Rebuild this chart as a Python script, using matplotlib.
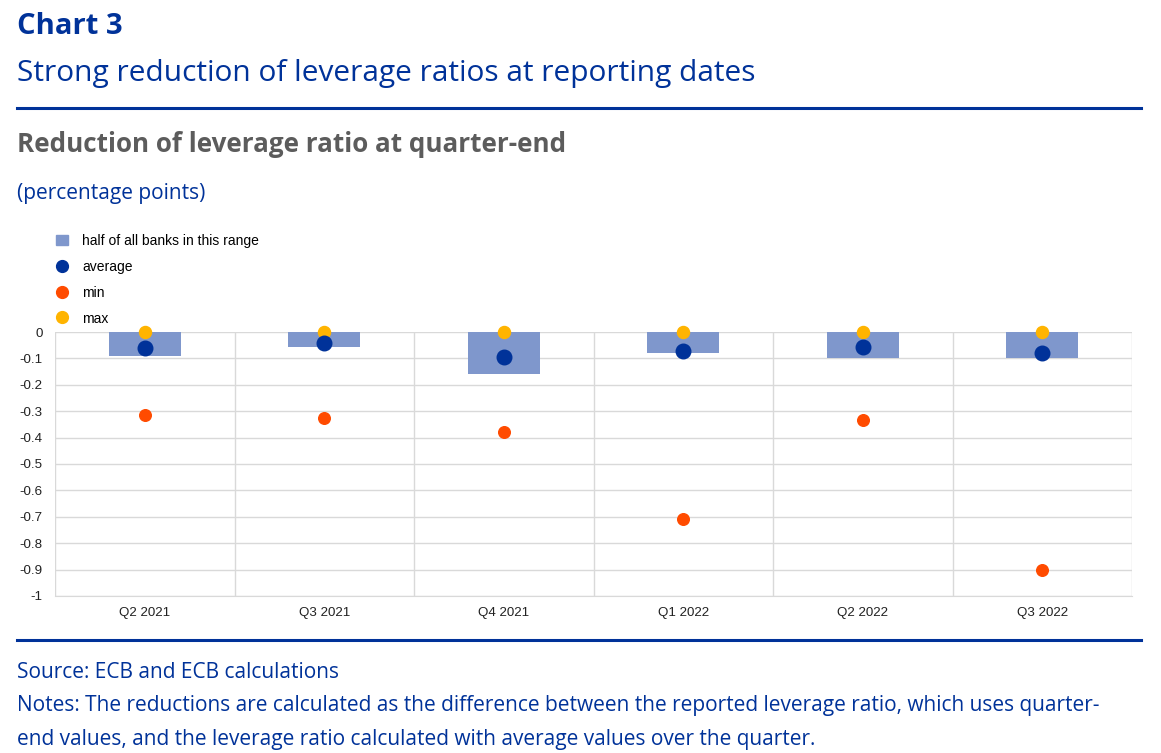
import numpy as np
import matplotlib.pyplot as plt
from matplotlib.lines import Line2D
from matplotlib.patches import Patch

# data (percentage points)
quarters = ["Q2 2021", "Q3 2021", "Q4 2021", "Q1 2022", "Q2 2022", "Q3 2022"]
range_top = [0.0, 0.0, 0.0, 0.0, 0.0, 0.0]
range_bottom = [-0.09, -0.055, -0.16, -0.08, -0.10, -0.10]
average = [-0.06, -0.042, -0.094, -0.072, -0.058, -0.078]
minimum = [-0.315, -0.326, -0.379, -0.708, -0.333, -0.902]
maximum = [0.0, 0.0, 0.0, 0.0, 0.0, 0.0]

blue = "#003299"
bar_col = "#7f97cc"
min_col = "#ff4b00"
max_col = "#ffb400"
grey = "#5c5c5c"

plt.rcParams["font.family"] = ["Open Sans", "DejaVu Sans"]

fig = plt.figure(figsize=(11.61, 7.53), dpi=100)

# header
fig.text(17 / 1161, 1 - 26 / 753, "Chart 3", color=blue, fontsize=21, fontweight="bold", va="center")
fig.text(17 / 1161, 1 - 73 / 753, "Strong reduction of leverage ratios at reporting dates",
         color=blue, fontsize=21.5, va="center")
fig.add_artist(Line2D([17 / 1161, 1141 / 1161], [1 - 108 / 753] * 2, color=blue, lw=2.2))
fig.text(17 / 1161, 1 - 145 / 753, "Reduction of leverage ratio at quarter-end",
         color=grey, fontsize=18.7, fontweight="bold", va="center")
fig.text(17 / 1161, 1 - 193 / 753, "(percentage points)", color=blue, fontsize=15, va="center")

ax = fig.add_axes([55 / 1161, 1 - 596 / 753, (1132 - 55) / 1161, (596 - 332) / 753])
x = np.arange(len(quarters))
heights = np.array(range_bottom) - np.array(range_top)
ax.bar(x, heights, bottom=range_top, width=0.4, color=bar_col, zorder=2)
ax.scatter(x, average, s=110, color=blue, zorder=4)
ax.scatter(x, minimum, s=70, color=min_col, zorder=4)
ax.scatter(x, maximum, s=75, color=max_col, zorder=3)

ax.set_xlim(-0.5, len(quarters) - 0.5)
ax.set_ylim(-1, 0)
ax.set_yticks(np.arange(-1, 0.01, 0.1))
ax.set_yticklabels(["-1", "-0.9", "-0.8", "-0.7", "-0.6", "-0.5", "-0.4", "-0.3", "-0.2", "-0.1", "0"])
ax.set_xticks(x)
ax.set_xticklabels(quarters)
ax.set_xticks(np.arange(-0.5, len(quarters), 1), minor=True)
ax.grid(axis="y", color="#d9d9d9", lw=1, zorder=0)
ax.grid(axis="x", which="minor", color="#d9d9d9", lw=1, zorder=0)
ax.tick_params(which="both", length=0)
ax.tick_params(axis="both", labelsize=9.6, colors="#222222", labelfontfamily="Liberation Sans")
ax.tick_params(axis="x", pad=8)
ax.tick_params(axis="y", pad=9)
for s in ax.spines.values():
    s.set_visible(False)
ax.spines["bottom"].set_visible(True)
ax.spines["bottom"].set_color("#d9d9d9")
for c in ax.collections:
    c.set_clip_on(False)

handles = [
    Patch(color=bar_col, label="half of all banks in this range"),
    Line2D([], [], marker="o", ls="", color=blue, markersize=8.5, label="average"),
    Line2D([], [], marker="o", ls="", color=min_col, markersize=8.5, label="min"),
    Line2D([], [], marker="o", ls="", color=max_col, markersize=8.5, label="max"),
]
fig.legend(handles=handles, loc="upper left", bbox_to_anchor=(46 / 1161, 1 - 224 / 753),
           frameon=False, prop={"family": "Liberation Sans", "size": 10},
           handlelength=0.9, handleheight=0.8, handletextpad=1.0, labelspacing=0.86,
           borderpad=0.2)

# footer
fig.add_artist(Line2D([17 / 1161, 1141 / 1161], [1 - 640 / 753] * 2, color=blue, lw=2.2))
fig.text(17 / 1161, 1 - 673 / 753, "Source: ECB and ECB calculations", color=blue, fontsize=15, va="center")
fig.text(17 / 1161, 1 - 706 / 753,
         "Notes: The reductions are calculated as the difference between the reported leverage ratio, which uses quarter-",
         color=blue, fontsize=15, va="center")
fig.text(17 / 1161, 1 - 740 / 753,
         "end values, and the leverage ratio calculated with average values over the quarter.",
         color=blue, fontsize=15, va="center")

fig.savefig("out.png", dpi=100)
